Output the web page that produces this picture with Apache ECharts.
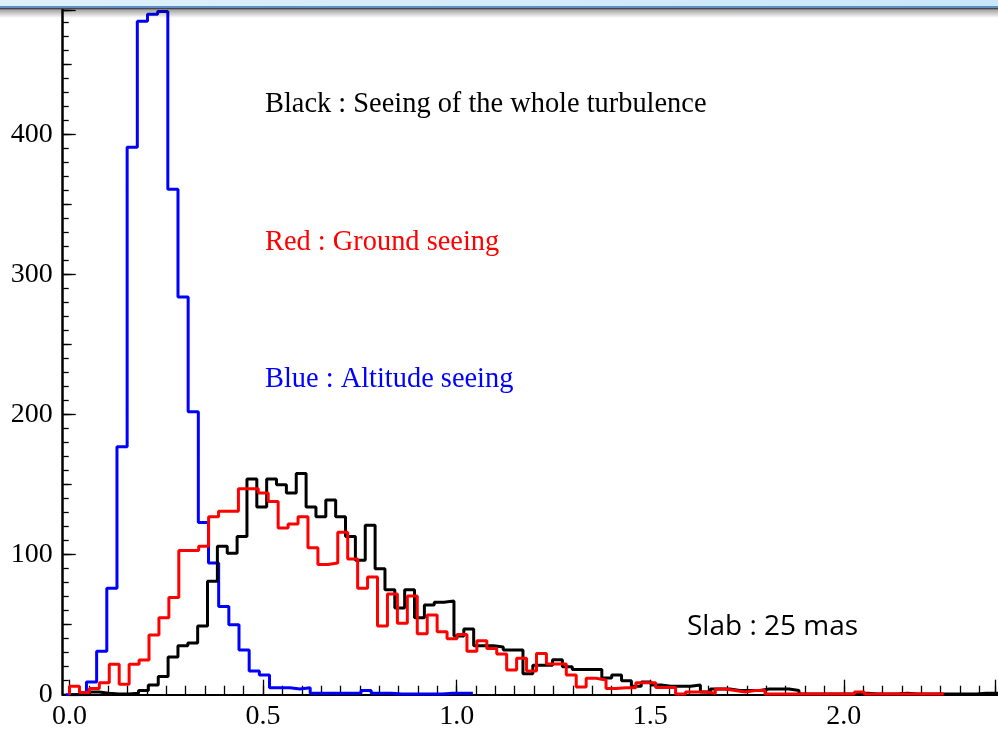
<!DOCTYPE html>
<html><head><meta charset="utf-8">
<script src="https://cdn.jsdelivr.net/npm/echarts@6/dist/echarts.min.js"></script>
<style>html,body{margin:0;padding:0;background:#fff}#c{width:998px;height:734px}</style>
</head><body><div id="c"></div>
<script>
// Histogram bins (25 mas slabs), as drawn in the picture
const blackBinStart = 0, blackBinWidth = 0.0253;
const redBinStart = 0, redBinWidth = 0.0255;
const blueBinStart = -0.0087, blueBinWidth = 0.0261;

const blackCounts = [0,0,2,1,0.5,0.5,1,3,7,13,27,35,37,49,81,106,101,113,154,134,154,150,144,158,134,127,139,127,113,96,121,90,75,62,75,55,64,66,67,42,47,35,35,34,32,32,15,21,21,25,20,18,18,18,12,14,10,6,9,7,6,6,6,7,2,4,4,3,3,3,4,4,4,3,0.5,0.5,0.5,0.5,0.5,0.5,1,0.5,0.5,0.5,1,0.5,0.5,0.5,0.5,0.5,0.5,0.5,1,1,1];
const redCounts = [6,1.5,4.5,8.6,21.7,7.4,21.7,24.8,42.6,55,69.5,103,103,106,127,131,131,147,147,144,138,119,122,127,105,93,94,116,97,76,84,49,72,51,70.5,43.5,57,45,40,43,31,38.5,33,29,17.6,26,17,29.5,22,22,14,5.5,11.7,10.5,4.5,5,5,8.6,8.6,5.2,5.2,0.5,2,2,1,4,3,2,3,3,0.5,0.5,0.5,0.5,0.5,0.5,0.5,0.5,0.5,2,0.5,0.5,0.5,0.5,0.5,0.5,0.5,0.5];
const blueCounts = [0,0.5,9,31,76,177,391,481,486,488,361,284,202,123,94,63,50,32,17,14,5,5,4,5,1,1,1,1,1,3,1,1,0.5,0.5,0.5,0.5,0.5,1,1,1];

const xTickLabels = ['0.0','0.5','1.0','1.5','2.0'];
const yTickLabels = ['0','100','200','300','400'];
const legendTexts = ['Black : Seeing of the whole turbulence','Red : Ground seeing','Blue : Altitude seeing'];
const slabText = 'Slab : 25 mas';

function stepData(start, width, counts) {
  const pts = [[start, 0]];
  counts.forEach((c, i) => pts.push([start + i * width, c]));
  pts.push([start + counts.length * width, counts[counts.length - 1]]);
  return pts;
}

const serif = '"Liberation Serif","Times New Roman",serif';
const chart = echarts.init(document.getElementById('c'), null, {renderer: 'canvas'});

const gTop = 10, gBottom = 39.3;
const xMin = -0.0175, xMax = 2.383;
const pxPerUnit = (998 - 62.7) / (xMax - xMin);
const tickGridLeft = 62.7 + (0 - xMin) * pxPerUnit;
const tickMax = (998 + 3 - tickGridLeft) / pxPerUnit;

function halfLabel(v) {
  const h = v * 2;
  if (Math.abs(h - Math.round(h)) < 1e-6) {
    const idx = Math.round(h);
    return idx < xTickLabels.length ? xTickLabels[idx] : '';
  }
  return '';
}
function hundredLabel(v) {
  const i = Math.round(v / 100);
  return (Math.abs(v - i * 100) < 1e-6 && i < yTickLabels.length) ? yTickLabels[i] : '';
}

const tickStyle = {color: '#000', width: 1.3};
const option = {
  animation: false,
  backgroundColor: '#ffffff',
  grid: [
    {left: 62.7, right: 0, top: gTop, bottom: gBottom, containLabel: false},
    {left: tickGridLeft, right: -3, top: gTop, bottom: gBottom, containLabel: false}
  ],
  xAxis: [
    {type: 'value', gridIndex: 0, position: 'bottom', min: xMin, max: xMax,
     axisLine: {show: true, onZero: false, lineStyle: {color: '#000', width: 2}},
     axisTick: {show: false}, axisLabel: {show: false}, splitLine: {show: false}},
    {type: 'value', gridIndex: 1, position: 'bottom', min: 0, max: tickMax, interval: 0.05,
     axisLine: {show: false, onZero: false},
     axisTick: {show: true, inside: true, length: 9, lineStyle: tickStyle},
     axisLabel: {show: false}, splitLine: {show: false}},
    {type: 'value', gridIndex: 1, position: 'bottom', min: 0, max: tickMax, interval: 0.5,
     axisLine: {show: false, onZero: false},
     axisTick: {show: true, inside: true, length: 15, lineStyle: tickStyle},
     axisLabel: {show: true, margin: 8, color: '#000', fontFamily: serif, fontSize: 28, formatter: halfLabel},
     splitLine: {show: false}}
  ],
  yAxis: [
    {type: 'value', gridIndex: 0, position: 'left', min: 0, max: 489, interval: 10,
     axisLine: {show: true, onZero: false, lineStyle: {color: '#000', width: 2.5}},
     axisTick: {show: true, inside: true, length: 6, lineStyle: tickStyle},
     axisLabel: {show: false}, splitLine: {show: false}},
    {type: 'value', gridIndex: 0, position: 'left', min: 0, max: 489, interval: 50,
     axisLine: {show: false, onZero: false}, axisTick: {show: true, inside: true, length: 9, lineStyle: tickStyle},
     axisLabel: {show: false}, splitLine: {show: false}},
    {type: 'value', gridIndex: 0, position: 'left', min: 0, max: 489, interval: 100,
     axisLine: {show: false, onZero: false}, axisTick: {show: true, inside: true, length: 13, lineStyle: tickStyle},
     axisLabel: {show: true, margin: 10, color: '#000', fontFamily: serif, fontSize: 28, formatter: hundredLabel},
     splitLine: {show: false}},
    {type: 'value', gridIndex: 1, min: 0, max: 489, show: false}
  ],
  series: [
    {type: 'line', xAxisIndex: 0, yAxisIndex: 0, step: 'end', symbol: 'none', z: 3,
     lineStyle: {color: '#0000ff', width: 3}, data: stepData(blueBinStart, blueBinWidth, blueCounts)},
    {type: 'line', xAxisIndex: 0, yAxisIndex: 0, step: 'end', symbol: 'none', z: 4,
     lineStyle: {color: '#000000', width: 3}, data: stepData(blackBinStart, blackBinWidth, blackCounts)},
    {type: 'line', xAxisIndex: 0, yAxisIndex: 0, step: 'end', symbol: 'none', z: 5,
     lineStyle: {color: '#ff0000', width: 3}, data: stepData(redBinStart, redBinWidth, redCounts)}
  ],
  graphic: [
    {type: 'text', left: 265, top: 91, style: {text: legendTexts[0], fill: '#000', font: '28.4px ' + serif}},
    {type: 'text', left: 265, top: 229, style: {text: legendTexts[1], fill: '#ff0000', font: '28.4px ' + serif}},
    {type: 'text', left: 265, top: 366, style: {text: legendTexts[2], fill: '#0000ff', font: '28.4px ' + serif}},
    {type: 'text', left: 687, top: 613, style: {text: slabText, fill: '#000', font: '28px "Open Sans", sans-serif'}},
    // window chrome strip at the top of the screenshot
    {type: 'rect', left: 0, top: 0, shape: {width: 998, height: 7}, z: 100,
     style: {fill: new echarts.graphic.LinearGradient(0, 0, 1, 0, [{offset: 0, color: '#dff0fc'}, {offset: 1, color: '#c9e7fb'}])}},
    {type: 'rect', left: 0, top: 6, shape: {width: 998, height: 2}, z: 100, style: {fill: '#5f8fc6'}},
    {type: 'rect', left: 0, top: 8, shape: {width: 998, height: 10}, z: 100,
     style: {fill: new echarts.graphic.LinearGradient(0, 0, 0, 1, [{offset: 0, color: 'rgba(0,0,0,0.85)'}, {offset: 0.2, color: 'rgba(0,0,0,0.35)'}, {offset: 1, color: 'rgba(0,0,0,0)'}])}}
  ]
};
chart.setOption(option);
</script></body></html>
